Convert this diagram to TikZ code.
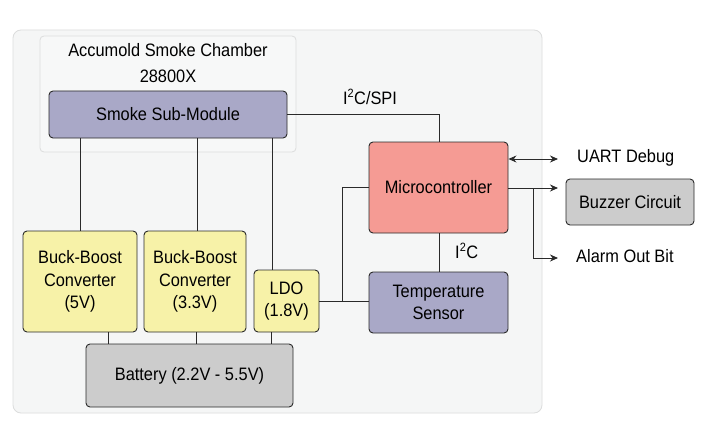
\documentclass[tikz,border=0pt]{standalone}
\usepackage{fontspec}
\setmainfont[FakeStretch=0.91]{Liberation Sans}
\usetikzlibrary{arrows.meta,calc}
\definecolor{bgfill}{HTML}{F5F6F6}
\definecolor{bgline}{HTML}{DCDDDD}
\definecolor{chfill}{HTML}{F7F8F8}
\definecolor{lav}{HTML}{A9A8C7}
\definecolor{salmon}{HTML}{F59B94}
\definecolor{yel}{HTML}{F7F2A8}
\definecolor{gry}{HTML}{CCCCCC}
\definecolor{ln}{HTML}{2A2A2A}
\tikzset{
  blk/.style={draw=ln, line width=0.9pt, rounded corners=4pt, align=center, inner sep=0pt, font=\fontsize{18}{22.5}\selectfont},
  wire/.style={draw=ln, line width=0.9pt},
  tip/.style={-{Stealth[length=8pt,width=7pt]}},
  lbl/.style={font=\fontsize{18}{22}\selectfont, inner sep=0pt}
}
\begin{document}
\begin{tikzpicture}[x=1pt,y=-1pt]
\useasboundingbox (0,0) rectangle (718,428);
\fill[white] (0,0) rectangle (718,428);
\draw[bgline, fill=bgfill, rounded corners=8pt, line width=0.8pt] (13,30) rectangle (542,413);
\draw[bgline, fill=chfill, rounded corners=4pt, line width=0.8pt] (40,36) rectangle (296,152);
\node[lbl, align=center, font=\fontsize{18}{26}\selectfont] (title) at (168,63) {Accumold Smoke Chamber\\28800X};

\node[blk, fill=lav, minimum width=238pt, minimum height=47pt] (sm) at (168,114.5) {Smoke Sub-Module};
\node[blk, fill=salmon, minimum width=139pt, minimum height=91pt] (mcu) at (438.5,187.5) {Microcontroller};
\node[blk, fill=lav, minimum width=139pt, minimum height=61pt] (temp) at (438.5,302.5) {Temperature\\Sensor};
\node[blk, fill=yel, minimum width=65pt, minimum height=62pt] (ldo) at (286.5,301) {LDO\\(1.8V)};
\node[blk, fill=yel, minimum width=114pt, minimum height=101pt] (bb5) at (80,281.5) {Buck-Boost\\Converter\\(5V)};
\node[blk, fill=yel, minimum width=102pt, minimum height=101pt] (bb33) at (195,281.5) {Buck-Boost\\Converter\\(3.3V)};
\node[blk, fill=gry, minimum width=207pt, minimum height=63pt] (bat) at (189.5,375.5) {Battery (2.2V - 5.5V)};
\node[blk, fill=gry, minimum width=128pt, minimum height=46pt] (buz) at (630,202) {Buzzer Circuit};

\node[lbl] (lspi) at (370,97) {I\textsuperscript{\fontsize{12}{12}\selectfont 2}C/SPI};
\node[lbl, anchor=west] (luart) at (577,158) {UART Debug};
\node[lbl, anchor=west] (lalarm) at (576,256) {Alarm Out Bit};
\node[lbl, anchor=west] (li2c) at (455,251) {I\textsuperscript{\fontsize{12}{12}\selectfont 2}C};

\coordinate (uartend) at (558,159);
\coordinate (buzend) at (558,188);
\coordinate (alarmend) at (558,258);
\coordinate (split) at (533,188);
\coordinate (ldojn) at (342,301);

% sub-module to supplies
\draw[wire] (sm.south -| 80,0) -- (bb5.north -| 80,0);
\draw[wire] (sm.south -| 197,0) -- (bb33.north -| 197,0);
\draw[wire] (sm.south -| 272,0) -- (ldo.north -| 272,0);
% battery to supplies
\draw[wire] (bat.north -| 108,0) -- (bb5.south -| 108,0);
\draw[wire] (bat.north -| 196,0) -- (bb33.south -| 196,0);
\draw[wire] (bat.north -| 271,0) -- (ldo.south -| 271,0);
% buses
\draw[wire] (sm.east |- 0,114) -| (mcu.north -| 439,0);
\draw[wire] (mcu.south -| 439,0) -- (temp.north -| 439,0);
\draw[wire] (ldo.east) -- (temp.west |- ldo.east);
\draw[wire] (ldojn) |- (mcu.west |- 0,187);
% outputs
\draw[wire, {Stealth[length=8pt,width=7pt]}-{Stealth[length=8pt,width=7pt]}] (mcu.east |- uartend) -- (uartend);
\draw[wire, tip] (mcu.east |- buzend) -- (buzend);
\draw[wire, tip] (split) |- (alarmend);
\end{tikzpicture}
\end{document}
